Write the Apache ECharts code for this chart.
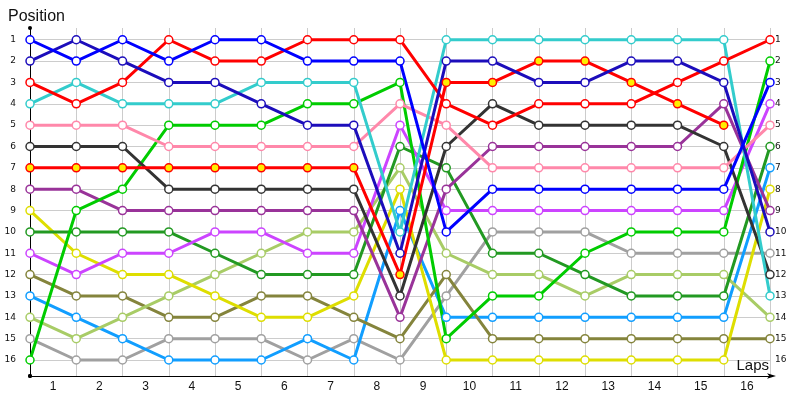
<!DOCTYPE html>
<html>
<head>
<meta charset="utf-8">
<script src="https://cdn.jsdelivr.net/npm/echarts@6/dist/echarts.min.js"></script>
<style>html,body{margin:0;padding:0;background:#fff;}#c{width:800px;height:400px;}</style>
</head>
<body>
<div id="c"></div>
<script>
// ---- data ----
var points = ['0','1','2','3','4','5','6','7','8','9','10','11','12','13','14','15','16'];
var lapLabels = ['1','2','3','4','5','6','7','8','9','10','11','12','13','14','15','16'];
var positions = [1,2,3,4,5,6,7,8,9,10,11,12,13,14,15,16];

var blue     = [1,2,1,2,1,1,2,2,2,10,8,8,8,8,8,8,3];
var navy     = [2,1,2,3,3,4,5,5,11,2,2,3,3,2,2,3,10];
var redA     = [3,4,3,1,2,2,1,1,1,4,5,4,4,4,3,2,1];
var redB     = [7,7,7,7,7,7,7,7,12,3,3,2,2,3,4,5,null];
var cyan     = [4,3,4,4,4,3,3,3,10,1,1,1,1,1,1,1,13];
var pink     = [5,5,5,6,6,6,6,6,4,5,7,7,7,7,7,7,5];
var darkGray = [6,6,6,8,8,8,8,8,13,6,4,5,5,5,5,6,12];
var green    = [16,9,8,5,5,5,4,4,3,15,13,13,11,10,10,10,2];
var purple   = [8,8,9,9,9,9,9,9,14,8,6,6,6,6,6,4,9];
var magenta  = [11,12,11,11,10,10,11,11,5,9,9,9,9,9,9,9,4];
var darkGreen= [10,10,10,10,11,12,12,12,6,7,11,11,12,13,13,13,6];
var yellow   = [9,11,12,12,13,14,14,13,8,16,16,16,16,16,16,16,8];
var olive    = [12,13,13,14,14,13,13,14,15,12,15,15,15,15,15,15,15];
var skyBlue  = [13,14,15,16,16,16,15,16,9,14,14,14,14,14,14,14,7];
var lightGreen=[14,15,14,13,12,11,10,10,7,11,12,12,13,12,12,12,14];
var gray     = [15,16,16,15,15,15,16,15,16,13,10,10,10,11,11,11,11];

var seriesDefs = [
  {name:'Gray', data:gray, color:'#a0a0a0'},
  {name:'Sky blue', data:skyBlue, color:'#119eff'},
  {name:'Olive', data:olive, color:'#84843c'},
  {name:'Light green', data:lightGreen, color:'#a8cc66'},
  {name:'Yellow', data:yellow, color:'#dede00'},
  {name:'Dark green', data:darkGreen, color:'#229922'},
  {name:'Magenta', data:magenta, color:'#cc44ff'},
  {name:'Purple', data:purple, color:'#993399'},
  {name:'Green', data:green, color:'#00cc00'},
  {name:'Dark gray', data:darkGray, color:'#333333'},
  {name:'Pink', data:pink, color:'#ff88aa'},
  {name:'Cyan', data:cyan, color:'#33cccc'},
  {name:'Red B', data:redB, color:'#ff0000', fill:'#ffee00'},
  {name:'Red A', data:redA, color:'#ff0000'},
  {name:'Navy', data:navy, color:'#1c0dbb'},
  {name:'Blue', data:blue, color:'#0000ff'}
];

var series = seriesDefs.map(function(s){
  return {
    name: s.name,
    type: 'line',
    xAxisIndex: 0,
    yAxisIndex: 0,
    data: s.data,
    symbol: 'circle',
    symbolSize: 8,
    showAllSymbol: true,
    connectNulls: false,
    lineStyle: {color: s.color, width: 3},
    itemStyle: {color: s.fill || '#ffffff', borderColor: s.color, borderWidth: 1.5},
    emphasis: {disabled: true},
    animation: false
  };
});

var chart = echarts.init(document.getElementById('c'), null, {renderer:'canvas'});
chart.setOption({
  animation: false,
  backgroundColor: '#ffffff',
  title: [
    {
      text: 'Position', left: 3, top: 4,
      textStyle: {fontFamily:'Liberation Sans', fontSize: 16, fontWeight: 'normal', color: '#111'}
    },
    {
      text: 'Laps', right: 26, top: 353,
      textStyle: {fontFamily:'Liberation Sans', fontSize: 15, fontWeight: 'normal', color: '#111'}
    }
  ],
  grid: {left: 30, right: 30, top: 28, bottom: 24, containLabel: false, outerBoundsMode: 'none'},
  xAxis: [
    {
      type: 'category', data: points, boundaryGap: false,
      axisLine: {show: true, lineStyle: {color:'#000', width: 1}, symbol: ['circle','arrow'], symbolSize: [4, 9], symbolOffset: [0, 6]},
      axisTick: {show: false},
      axisLabel: {show: false},
      splitLine: {show: true, lineStyle: {color:'#cccccc', width: 1}}
    },
    {
      type: 'category', data: lapLabels, boundaryGap: true, position: 'bottom',
      axisLine: {show: false}, axisTick: {show: false}, splitLine: {show: false},
      axisLabel: {show: true, fontFamily:'Liberation Sans', fontSize: 12, color:'#111', margin: 5}
    }
  ],
  yAxis: [
    {
      type: 'value', inverse: true, min: 0.45, max: 16.75, position: 'left',
      axisLine: {show: true, lineStyle: {color:'#000', width: 1}, symbol: ['circle','circle'], symbolSize: [4, 4]},
      axisTick: {show: false, customValues: positions},
      axisLabel: {show: true, customValues: positions, fontFamily:'DejaVu Sans', fontSize: 9, color:'#111', margin: 14},
      splitLine: {show: true, lineStyle: {color:'#cccccc', width: 1}}
    },
    {
      type: 'value', inverse: true, min: 0.45, max: 16.75, position: 'right',
      axisLine: {show: false},
      axisTick: {show: false, customValues: positions},
      axisLabel: {show: true, customValues: positions, fontFamily:'DejaVu Sans', fontSize: 9, color:'#111', margin: 5},
      splitLine: {show: false}
    }
  ],
  series: series
});
</script>
</body>
</html>
